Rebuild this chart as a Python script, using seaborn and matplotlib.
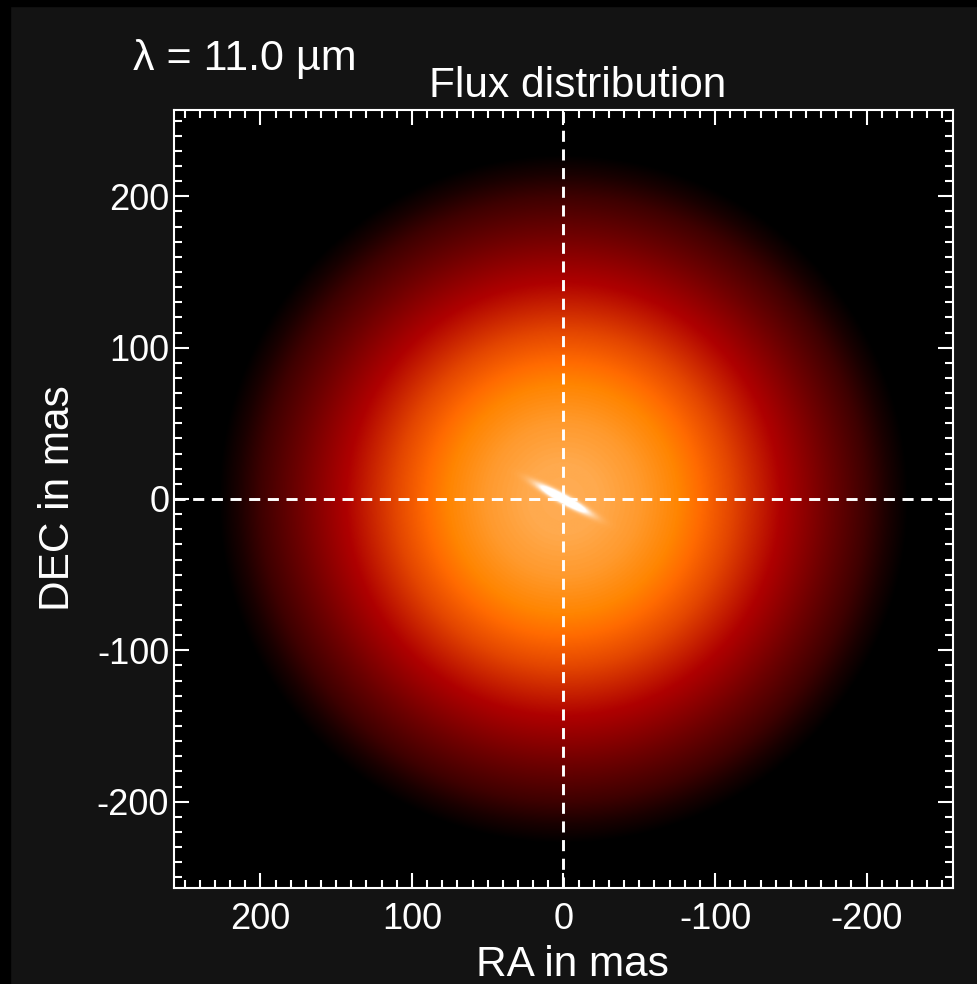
import numpy as np
import matplotlib
matplotlib.use("Agg")
import matplotlib.pyplot as plt
from matplotlib.colors import LinearSegmentedColormap
from matplotlib.patches import Rectangle
from matplotlib.ticker import MultipleLocator, FixedLocator, FuncFormatter
import seaborn as sns

# ---- data -------------------------------------------------------------
# Radial brightness profile of the extended dust emission
# (colour-table level 0..1 versus radius in mas)
profile_radius = [0, 25, 50, 76, 111, 146, 175, 200, 215, 228, 400]
profile_level = [0.83, 0.82, 0.79, 0.745, 0.615, 0.46, 0.30, 0.17, 0.07, 0.0, 0.0]

# Compact, elongated central source
core_peak = 0.5
core_sigma_major = 11.5   # mas
core_sigma_minor = 1.8    # mas
core_angle = 29.0         # deg, from +RA towards +DEC

field_half = 257          # mas
n_pix = 1029

ra_ticks = [200, 100, 0, -100, -200]
dec_ticks = [-200, -100, 0, 100, 200]

wavelength_label = "λ = 11.0 µm"
title_text = "Flux distribution"
xlabel_text = "RA in mas"
ylabel_text = "DEC in mas"

# Red-temperature colour table: (position, value) nodes per channel
red_nodes = [(0.0, 0.0), (176 / 255, 1.0), (1.0, 1.0)]
green_nodes = [(0.0, 0.0), (120 / 255, 0.0), (1.0, 1.0)]
blue_nodes = [(0.0, 0.0), (190 / 255, 0.0), (1.0, 1.0)]

# ---- style ------------------------------------------------------------
bg = "#131313"
sns.set_theme(style="ticks")
plt.rcParams["font.family"] = ["Liberation Sans", "DejaVu Sans"]
plt.rcParams["axes.unicode_minus"] = False

cmap = LinearSegmentedColormap(
    "red_temperature",
    {
        "red": [(p, v, v) for p, v in red_nodes],
        "green": [(p, v, v) for p, v in green_nodes],
        "blue": [(p, v, v) for p, v in blue_nodes],
    },
)

# ---- image ------------------------------------------------------------
ra = np.linspace(field_half, -field_half, n_pix)
dec = np.linspace(-field_half, field_half, n_pix)
RA, DEC = np.meshgrid(ra, dec)
r = np.hypot(RA, DEC)
level = np.interp(r, profile_radius, profile_level)

a = np.deg2rad(core_angle)
u = RA * np.cos(a) + DEC * np.sin(a)
v = -RA * np.sin(a) + DEC * np.cos(a)
level = level + core_peak * np.exp(-0.5 * (u / core_sigma_major) ** 2
                                   - 0.5 * (v / core_sigma_minor) ** 2)
level = np.clip(level, 0, 1)

W, H = 978, 984
fig = plt.figure(figsize=(W / 100, H / 100), dpi=100, facecolor=bg)
ax = fig.add_axes([174 / W, 1 - 888 / H, (953 - 174) / W, (888 - 110) / H])
ax.set_facecolor("black")

ax.imshow(level, cmap=cmap, vmin=0, vmax=1, origin="lower",
          extent=[field_half, -field_half, -field_half, field_half],
          interpolation="bilinear", aspect="auto")
ax.set_xlim(field_half, -field_half)
ax.set_ylim(-field_half, field_half)

# crosshair through the centre
dash = (0, (3.8, 2.6))
ax.axvline(0, color="white", lw=2.1, ls=dash)
ax.axhline(0, color="white", lw=2.1, ls=dash)

# ---- axes decoration --------------------------------------------------
for sp in ax.spines.values():
    sp.set_color("white")
    sp.set_linewidth(1.5)
    sp.set_visible(True)

ax.xaxis.set_major_locator(FixedLocator(ra_ticks))
ax.yaxis.set_major_locator(FixedLocator(dec_ticks))
ax.xaxis.set_minor_locator(MultipleLocator(10))
ax.yaxis.set_minor_locator(MultipleLocator(10))
fmt = FuncFormatter(lambda val, _: f"{int(round(val))}")
ax.xaxis.set_major_formatter(fmt)
ax.yaxis.set_major_formatter(fmt)

ax.tick_params(which="both", direction="in", top=True, right=True,
               color="white", width=1.5, labelcolor="white", labelsize=26)
ax.tick_params(which="major", length=11)
ax.tick_params(which="minor", length=6)
ax.tick_params(axis="x", pad=10)
ax.tick_params(axis="y", pad=3.5)

fig.text(578 / W, 1 - 97 / H, title_text, color="white", fontsize=30.5,
         ha="center", va="baseline")
fig.text(133 / W, 1 - 70 / H, wavelength_label, color="white", fontsize=31,
         ha="left", va="baseline")
fig.text(572 / W, 1 - 976 / H, xlabel_text, color="white", fontsize=30.5,
         ha="center", va="baseline")
fig.text(58 / W, 1 - 498 / H, ylabel_text, color="white", fontsize=30.5,
         ha="center", va="center", rotation=90)

# dark frame along the top and left edges
fig.add_artist(Rectangle((0, 0), 10 / W, 1, transform=fig.transFigure,
                         color="black", zorder=-1))
fig.add_artist(Rectangle((0, 1 - 6 / H), 1, 6 / H, transform=fig.transFigure,
                         color="black", zorder=-1))

fig.savefig("out.png", dpi=100, facecolor=bg)
